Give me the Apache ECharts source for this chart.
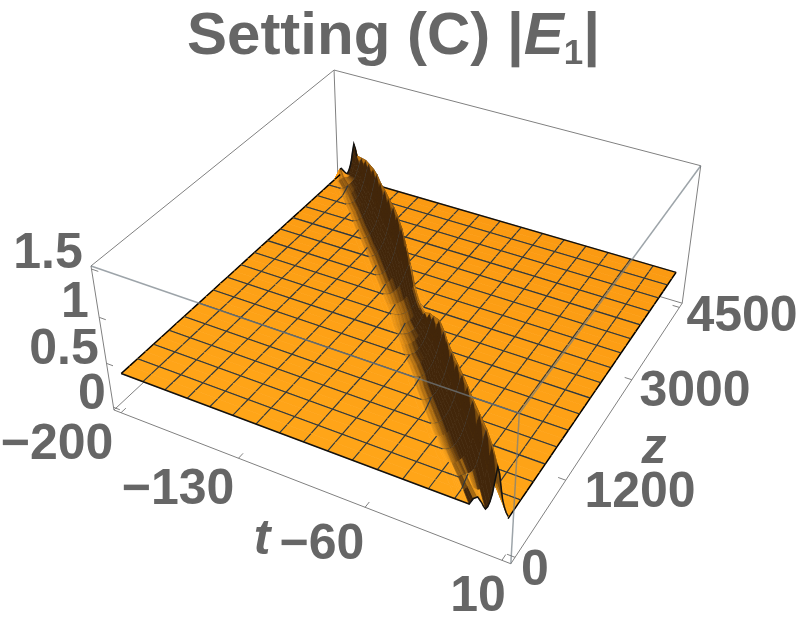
<!DOCTYPE html>
<html>
<head>
<meta charset="utf-8">
<style>html,body{margin:0;padding:0;background:#fff}#main{width:800px;height:628px}</style>
<script src="https://cdn.jsdelivr.net/npm/echarts@6/dist/echarts.min.js"></script>
</head>
<body>
<div id="main"></div>
<script>
// ticks of the three axes
const tTicks = [-200, -130, -60, 10];
const zTicks = [0, 1200, 3000, 4500];
const eTicks = [0, 0.5, 1, 1.5];

// flat level of the surface
const plateE = 0.36;

// surface rows: z of each row, t of the crest, |E1| at the crest,
// left width of the crest, side bump height
const rowZ = [0, 141, 281, 422, 563, 703, 844, 984, 1125, 1266, 1406, 1547, 1688, 1828, 1969, 2109, 2250,
    2391, 2531, 2672, 2813, 2953, 3094, 3234, 3375, 3516, 3656, 3797, 3938, 4078, 4219, 4359, 4500];
const crestT = [4, -2, -8, -14.5, -21, -27, -33, -39, -45, -51, -56, -62, -68.5, -74, -80, -86, -91,
    -97, -103, -109, -115, -121, -127, -133.5, -139.5, -146, -152, -158, -164.5, -170.5, -177, -184, -190];
const crestE = [0.86, 0.94, 0.97, 0.98, 0.99, 1.0, 1.0, 0.99, 0.98, 0.98, 0.97, 0.97, 0.89, 0.81, 0.70, 0.65, 0.61,
    0.66, 0.80, 0.91, 0.99, 1.02, 1.02, 1.01, 1.0, 0.99, 0.99, 0.96, 0.92, 0.87, 0.80, 0.73, 0.78];
const crestW = [0.36, 0.5, 0.66, 0.8, 0.9, 0.96, 1, 1, 1, 1, 1, 1, 1, 1, 1, 1, 1,
    1, 1, 1, 1, 1, 1, 1, 1, 1, 1, 1, 1, 1, 0.9, 0.7, 0.45];
const sideE = [0.11, 0.08, 0.05, 0.02, 0, 0, 0, 0, 0, 0, 0, 0, 0, 0, 0, 0, 0,
    0, 0, 0, 0, 0, 0, 0, 0, 0, 0, 0, 0, 0, 0.02, 0.05, 0.08];

// cross section of the ridge around the crest
const mainT = [-16, -14, -12, -10, -8, -6, -4, -3, -2, -1, 0, 1, 2, 3, 4.5, 6, 8];
const mainF = [0, 0.02, 0.06, 0.13, 0.23, 0.36, 0.55, 0.67, 0.8, 0.92, 1, 0.87, 0.6, 0.35, 0.14, 0.05, 0];
const sideT = [-13, -11, -9, -7, -5];
const sideF = [0, 0.7, 1, 0.6, 0];
const nodeT = [-20, -17, -16, -15, -14, -13, -12, -11, -10, -9, -8, -7, -6, -5, -4, -3, -2, -1, 0, 1, 2, 3, 4, 5, 6, 8, 12];

// text on the axes
const labelText = ['1.5', '1', '0.5', '0', '\u2212200', '\u2212130', '\u221260', '10', '0', '1200', '3000', '4500'];
const labelX = [48, 75, 64, 92, 57, 178, 322, 478, 535, 640, 695, 742];
const labelY = [254, 303, 350, 395, 445, 490, 545, 597, 571, 493, 392, 317];

const orangeFar = [251, 154, 18];
const orangeNear = [255, 165, 24];
const brown = [66, 38, 10];
const boxGray = '#808080';
const meshColor = '#2c3740';
const meshOnRidge = '#4d5c6b';

// box corners on the page [u, v, w, x, y], used to fit the camera
const cameraPts = [
    [0, 0, 0, 114, 410], [1, 0, 0, 511, 564], [1, 1, 0, 682, 303],
    [0, 0, 1, 91, 266], [1, 0, 1, 519, 413], [1, 1, 1, 701, 166], [0, 1, 1, 334, 70]
];

function fitCamera(pts) {
    // least squares for the 3x4 projection, last term fixed to 1
    const A = [], b = [];
    pts.forEach(p => {
        const [u, v, w, x, y] = p;
        A.push([u, v, w, 1, 0, 0, 0, 0, -x * u, -x * v, -x * w]); b.push(x);
        A.push([0, 0, 0, 0, u, v, w, 1, -y * u, -y * v, -y * w]); b.push(y);
    });
    const n = 11;
    const M = [];
    for (let i = 0; i < n; i++) {
        M.push([]);
        for (let j = 0; j < n; j++) {
            let s = 0;
            A.forEach(r => { s += r[i] * r[j]; });
            M[i].push(s);
        }
        let s = 0;
        A.forEach((r, k) => { s += r[i] * b[k]; });
        M[i].push(s);
    }
    for (let i = 0; i < n; i++) {
        let p = i;
        for (let k = i + 1; k < n; k++) if (Math.abs(M[k][i]) > Math.abs(M[p][i])) p = k;
        [M[i], M[p]] = [M[p], M[i]];
        for (let k = 0; k < n; k++) {
            if (k === i) continue;
            const f = M[k][i] / M[i][i];
            for (let j = i; j <= n; j++) M[k][j] -= f * M[i][j];
        }
    }
    return M.map((r, i) => r[n] / r[i]);
}
const cam = fitCamera(cameraPts);

function projectBox(u, v, w) {
    const d = cam[8] * u + cam[9] * v + cam[10] * w + 1;
    return [(cam[0] * u + cam[1] * v + cam[2] * w + cam[3]) / d, (cam[4] * u + cam[5] * v + cam[6] * w + cam[7]) / d];
}
const toU = t => 0.02 + 0.96 * (t + 200) / 210;
const toV = z => 0.02 + 0.96 * z / 4500;
const toW = e => 0.02 + 0.96 * e / 1.5;
const project = (t, z, e) => projectBox(toU(t), toV(z), toW(e));

function lookup(xs, ys, x) {
    if (x <= xs[0] || x >= xs[xs.length - 1]) return 0;
    let k = 0;
    while (xs[k + 1] < x) k++;
    return ys[k] + (x - xs[k]) / (xs[k + 1] - xs[k]) * (ys[k + 1] - ys[k]);
}
function rowHeight(i, t) {
    const off = t - crestT[i];
    const main = lookup(mainT, mainF, off < 0 ? off / crestW[i] : off);
    return plateE + main * (crestE[i] - plateE) + lookup(sideT, sideF, off) * sideE[i];
}
function rowNodes(i) {
    const ts = [-200];
    nodeT.forEach(o => ts.push(Math.min(10, Math.max(-200, crestT[i] + o))));
    ts.push(10);
    return ts.map(t => ({ t, e: rowHeight(i, t) }));
}
const nodes = rowZ.map((z, i) => rowNodes(i));

function shade(s, i) {
    const d = s >= 0 ? Math.min(1, s / 0.03) : Math.min(1, -s / 0.12) * 0.7;
    const f = i / 32;
    const c = orangeNear.map((o, k) => {
        const base = o + (orangeFar[k] - o) * f;
        return Math.round(base + (brown[k] - base) * d);
    });
    return 'rgb(' + c.join(',') + ')';
}

function renderStrip(params, api) {
    const i = api.value(0);
    const pt = (t, z, e) => api.coord(project(t, z, e));
    const near = nodes[i], far = nodes[i + 1];
    const children = [];
    for (let k = 0; k < near.length - 1; k++) {
        const dn = near[k + 1].t - near[k].t, df = far[k + 1].t - far[k].t;
        const sn = dn > 0 ? (near[k + 1].e - near[k].e) / dn : 0;
        const sf = df > 0 ? (far[k + 1].e - far[k].e) / df : 0;
        const col = shade((sn + sf) / 2, i);
        children.push({
            type: 'polygon',
            shape: {
                points: [pt(near[k].t, rowZ[i], near[k].e), pt(near[k + 1].t, rowZ[i], near[k + 1].e),
                    pt(far[k + 1].t, rowZ[i + 1], far[k + 1].e), pt(far[k].t, rowZ[i + 1], far[k].e)]
            },
            style: { fill: col, stroke: col, lineWidth: 0.7 }
        });
    }
    const line = (points, color, w) => children.push({
        type: 'polyline', shape: { points }, style: { fill: null, stroke: color, lineWidth: w }
    });
    // constant t mesh lines, left out where they cross the steep face
    for (let m = 1; m < 16; m++) {
        const t = -200 + 210 * m / 16;
        const a = rowHeight(i, t), b = rowHeight(i + 1, t);
        if (a < plateE + 0.08 && b < plateE + 0.08) {
            line([pt(t, rowZ[i], a), pt(t, rowZ[i + 1], b)], meshColor, 1.15);
        }
    }
    // constant z mesh lines
    if (i > 0 && i % 2 === 0) {
        for (let k = 0; k < near.length - 1; k++) {
            const steep = near[k].e > plateE + 0.06 || near[k + 1].e > plateE + 0.06;
            line([pt(near[k].t, rowZ[i], near[k].e), pt(near[k + 1].t, rowZ[i], near[k + 1].e)], steep ? meshOnRidge : meshColor, steep ? 1 : 1.15);
        }
    }
    if (i + 1 < 32 && (i + 1) % 2 === 0) {
        for (let k = 0; k < far.length - 1; k++) {
            if (far[k].e === plateE && far[k + 1].e === plateE) {
                line([pt(far[k].t, rowZ[i + 1], plateE), pt(far[k + 1].t, rowZ[i + 1], plateE)], meshColor, 1.15);
            }
        }
    }
    // outline of the surface
    line([pt(-200, rowZ[i], plateE), pt(-200, rowZ[i + 1], plateE)], '#000', 1.5);
    line([pt(10, rowZ[i], plateE), pt(10, rowZ[i + 1], plateE)], '#000', 1.5);
    if (i === 0) line(near.map(n => pt(n.t, rowZ[0], n.e)), '#111', 1.5);
    if (i === 31) line(far.map(n => pt(n.t, rowZ[32], n.e)), '#111', 1.5);
    return { type: 'group', children };
}

// box edges as [u,v,w, u,v,w]
const backEdges = [
    [0, 0, 0, 0, 1, 0], [0, 1, 0, 1, 1, 0], [0, 1, 0, 0, 1, 1], [0, 1, 1, 1, 1, 1], [0, 1, 1, 0, 0, 1],
    [0, 0, 0, 1, 0, 0], [1, 0, 0, 1, 1, 0], [0, 0, 0, 0, 0, 1], [1, 1, 0, 1, 1, 1]
];
const frontEdges = [[0, 0, 1, 1, 0, 1], [1, 0, 1, 1, 1, 1], [1, 0, 0, 1, 0, 1]];

function tickEdges() {
    const out = [];
    tTicks.forEach(t => out.push([toU(t), 0, 0, toU(t), 0.018, 0]));
    zTicks.forEach(z => out.push([1, toV(z), 0, 0.982, toV(z), 0]));
    eTicks.forEach(e => out.push([0, 0, toW(e), 0.018, 0, toW(e)]));
    return out;
}
const ticks = tickEdges();

function edgeSeries(edges, z, color, width) {
    return {
        type: 'custom', coordinateSystem: 'cartesian2d', z, silent: true, clip: false,
        data: edges.map((e, i) => [i]),
        renderItem(params, api) {
            const e = edges[api.value(0)];
            const a = api.coord(projectBox(e[0], e[1], e[2]));
            const b = api.coord(projectBox(e[3], e[4], e[5]));
            return {
                type: 'line',
                shape: { x1: a[0], y1: a[1], x2: b[0], y2: b[1] },
                style: { stroke: color, lineWidth: width }
            };
        }
    };
}

function textSeries(texts, xs, ys, font) {
    return {
        type: 'custom', coordinateSystem: 'cartesian2d', z: 6, silent: true, clip: false,
        data: texts.map((s, i) => [i]),
        renderItem(params, api) {
            const i = api.value(0);
            const p = api.coord([xs[i], ys[i]]);
            return {
                type: 'text',
                style: { text: texts[i], x: p[0], y: p[1], align: 'center', verticalAlign: 'middle', font, fill: '#666666' }
            };
        }
    };
}

const stripIndex = [];
for (let i = rowZ.length - 2; i >= 0; i--) stripIndex.push([i]);

const option = {
    animation: false,
    title: {
        left: 182,
        top: -3,
        text: '{a|Setting (C) |}{b|E}{c|1}{a||}',
        textStyle: {
            rich: {
                a: { fontFamily: 'Liberation Sans', fontWeight: 'bold', fontSize: 60, lineHeight: 70, color: '#666666' },
                b: { fontFamily: 'Liberation Sans', fontWeight: 'bold', fontStyle: 'italic', fontSize: 60, lineHeight: 70, color: '#666666' },
                c: { fontFamily: 'Liberation Sans', fontWeight: 'bold', fontSize: 35, lineHeight: 26, verticalAlign: 'bottom', color: '#666666' }
            }
        }
    },
    grid: { left: 0, right: 0, top: 0, bottom: 0, show: false },
    xAxis: { type: 'value', min: 0, max: 800, show: false },
    yAxis: { type: 'value', min: 0, max: 628, inverse: true, show: false },
    series: [
        edgeSeries(backEdges, 1, boxGray, 1),
        edgeSeries(ticks, 1, boxGray, 1),
        {
            type: 'custom', coordinateSystem: 'cartesian2d', z: 2, silent: true, clip: false,
            data: stripIndex,
            renderItem: renderStrip
        },
        edgeSeries(frontEdges, 3, 'rgba(115,125,132,0.7)', 1.5),
        textSeries(labelText, labelX, labelY, 'bold 50px "Liberation Sans"'),
        textSeries(['t', 'z'], [262, 654], [540, 449], 'italic bold 50px "Liberation Sans"')
    ]
};

const chart = echarts.init(document.getElementById('main'), null, { renderer: 'canvas' });
chart.setOption(option);
</script>
</body>
</html>
